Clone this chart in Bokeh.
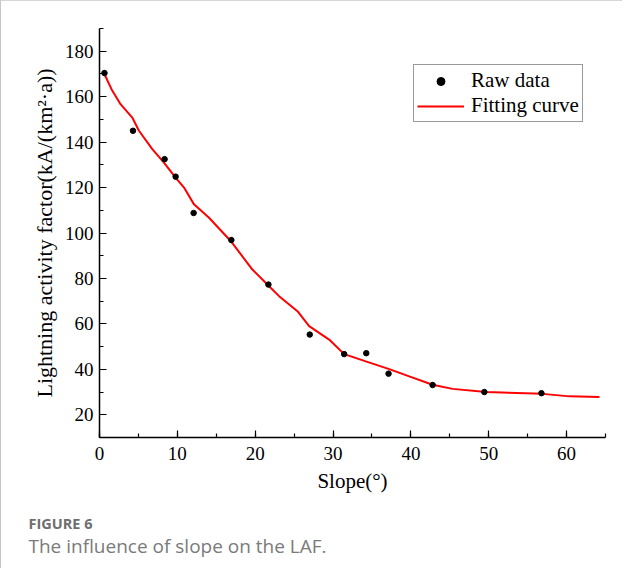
from bokeh.plotting import figure
from bokeh.models import (Range1d, SingleIntervalTicker, Legend, LegendItem, Title)
from bokeh.embed import file_html
from bokeh.resources import INLINE

# Raw data (slope in degrees, lightning activity factor)
raw_slope = [0.64, 4.30, 8.36, 9.78, 12.09, 16.94, 21.70, 27.01, 31.43, 34.27,
             37.13, 42.79, 49.44, 56.77]
raw_laf = [170.4, 145.0, 132.5, 124.8, 108.8, 96.9, 77.3, 55.3, 46.7, 47.1,
           38.1, 33.1, 30.0, 29.5]

# Fitting curve
fit_slope = [0.57, 1.54, 2.70, 4.21, 5.07, 6.78, 8.28, 9.77, 10.86, 12.14, 14.07,
             16.85, 19.64, 21.79, 23.07, 25.43, 26.93, 29.50, 31.43, 34.21, 37.22,
             39.79, 42.79, 45.36, 49.65, 56.94, 60.37, 64.23]
fit_laf = [170.4, 163.3, 156.7, 150.8, 145.0, 136.9, 131.0, 124.4, 120.0, 112.6, 106.7,
           96.5, 83.9, 76.6, 72.2, 65.6, 59.0, 53.1, 46.7, 43.5, 40.1,
           36.9, 33.2, 31.4, 30.0, 29.2, 28.1, 27.8]

SERIF = "Liberation Serif"
SANS = "Open Sans"

p = figure(width=622, height=568, output_backend="svg", toolbar_location=None,
           x_range=Range1d(0, 65), y_range=Range1d(10, 190),
           min_border_left=98, min_border_right=18, min_border_top=27,
           min_border_bottom=132)
p.styles = {"border-top": "1px solid #d6d6d6", "border-left": "1px solid #c6c6c6"}

p.outline_line_color = None
p.xgrid.grid_line_color = None
p.ygrid.grid_line_color = None
p.background_fill_color = "white"
p.border_fill_color = "white"

p.xaxis.ticker = SingleIntervalTicker(interval=10, num_minor_ticks=2)
p.yaxis.ticker = SingleIntervalTicker(interval=20, num_minor_ticks=2)

for ax in (p.xaxis, p.yaxis):
    ax.axis_line_color = "black"
    ax.axis_line_width = 1.5
    ax.major_tick_line_color = "black"
    ax.minor_tick_line_color = "black"
    ax.major_tick_line_width = 1.2
    ax.minor_tick_line_width = 1.2
    ax.major_tick_in = 7
    ax.major_tick_out = 0
    ax.minor_tick_in = 4
    ax.minor_tick_out = 0
    ax.major_label_text_font = SERIF
    ax.major_label_text_font_size = "19px"
    ax.major_label_text_color = "black"
    ax.axis_label_text_font = SERIF
    ax.axis_label_text_font_style = "normal"
    ax.axis_label_text_color = "black"

p.xaxis.axis_label_text_font_size = "21px"
p.yaxis.axis_label_text_font_size = "22px"
p.xaxis.axis_label = "Slope(°)"
p.yaxis.axis_label = "Lightning activity factor(kA/(km²·a))"
p.xaxis.major_label_standoff = 9
p.yaxis.major_label_standoff = 6
p.xaxis.axis_label_standoff = 6
p.yaxis.axis_label_standoff = 5

line_r = p.line(fit_slope, fit_laf, line_color="#ff0000", line_width=2)
pts_r = p.scatter(raw_slope, raw_laf, size=5.5, fill_color="black", line_color="black")

legend = Legend(items=[LegendItem(label="Raw data", renderers=[pts_r]),
                       LegendItem(label="Fitting curve", renderers=[line_r])],
                location=(314, 315))
legend.label_text_font = SERIF
legend.label_text_font_size = "21px"
legend.label_text_color = "black"
legend.glyph_width = 47
legend.glyph_height = 20
legend.label_standoff = 7
legend.padding = 3
legend.margin = 0
legend.spacing = 0
legend.border_line_color = "#333333"
legend.border_line_width = 1
legend.background_fill_alpha = 1
p.add_layout(legend, "center")

# invisible spacer between the axis and the caption
spacer = Title(text=" ", text_font_size="1px", standoff=13, text_color="white")
cap1 = Title(text="FIGURE 6", align="left", offset=-71, text_font=SANS,
             text_font_size="14.5px", text_font_style="bold", text_color="#6e6e6e",
             standoff=0, vertical_align="bottom")
cap2 = Title(text="The influence of slope on the LAF.", align="left", offset=-71,
             text_font=SANS, text_font_size="19px", text_font_style="normal",
             text_color="#7a7a7a", standoff=0, vertical_align="top")
p.add_layout(spacer, "below")
p.add_layout(cap1, "below")
p.add_layout(cap2, "below")

open("out.html", "w").write(file_html(p, INLINE))
